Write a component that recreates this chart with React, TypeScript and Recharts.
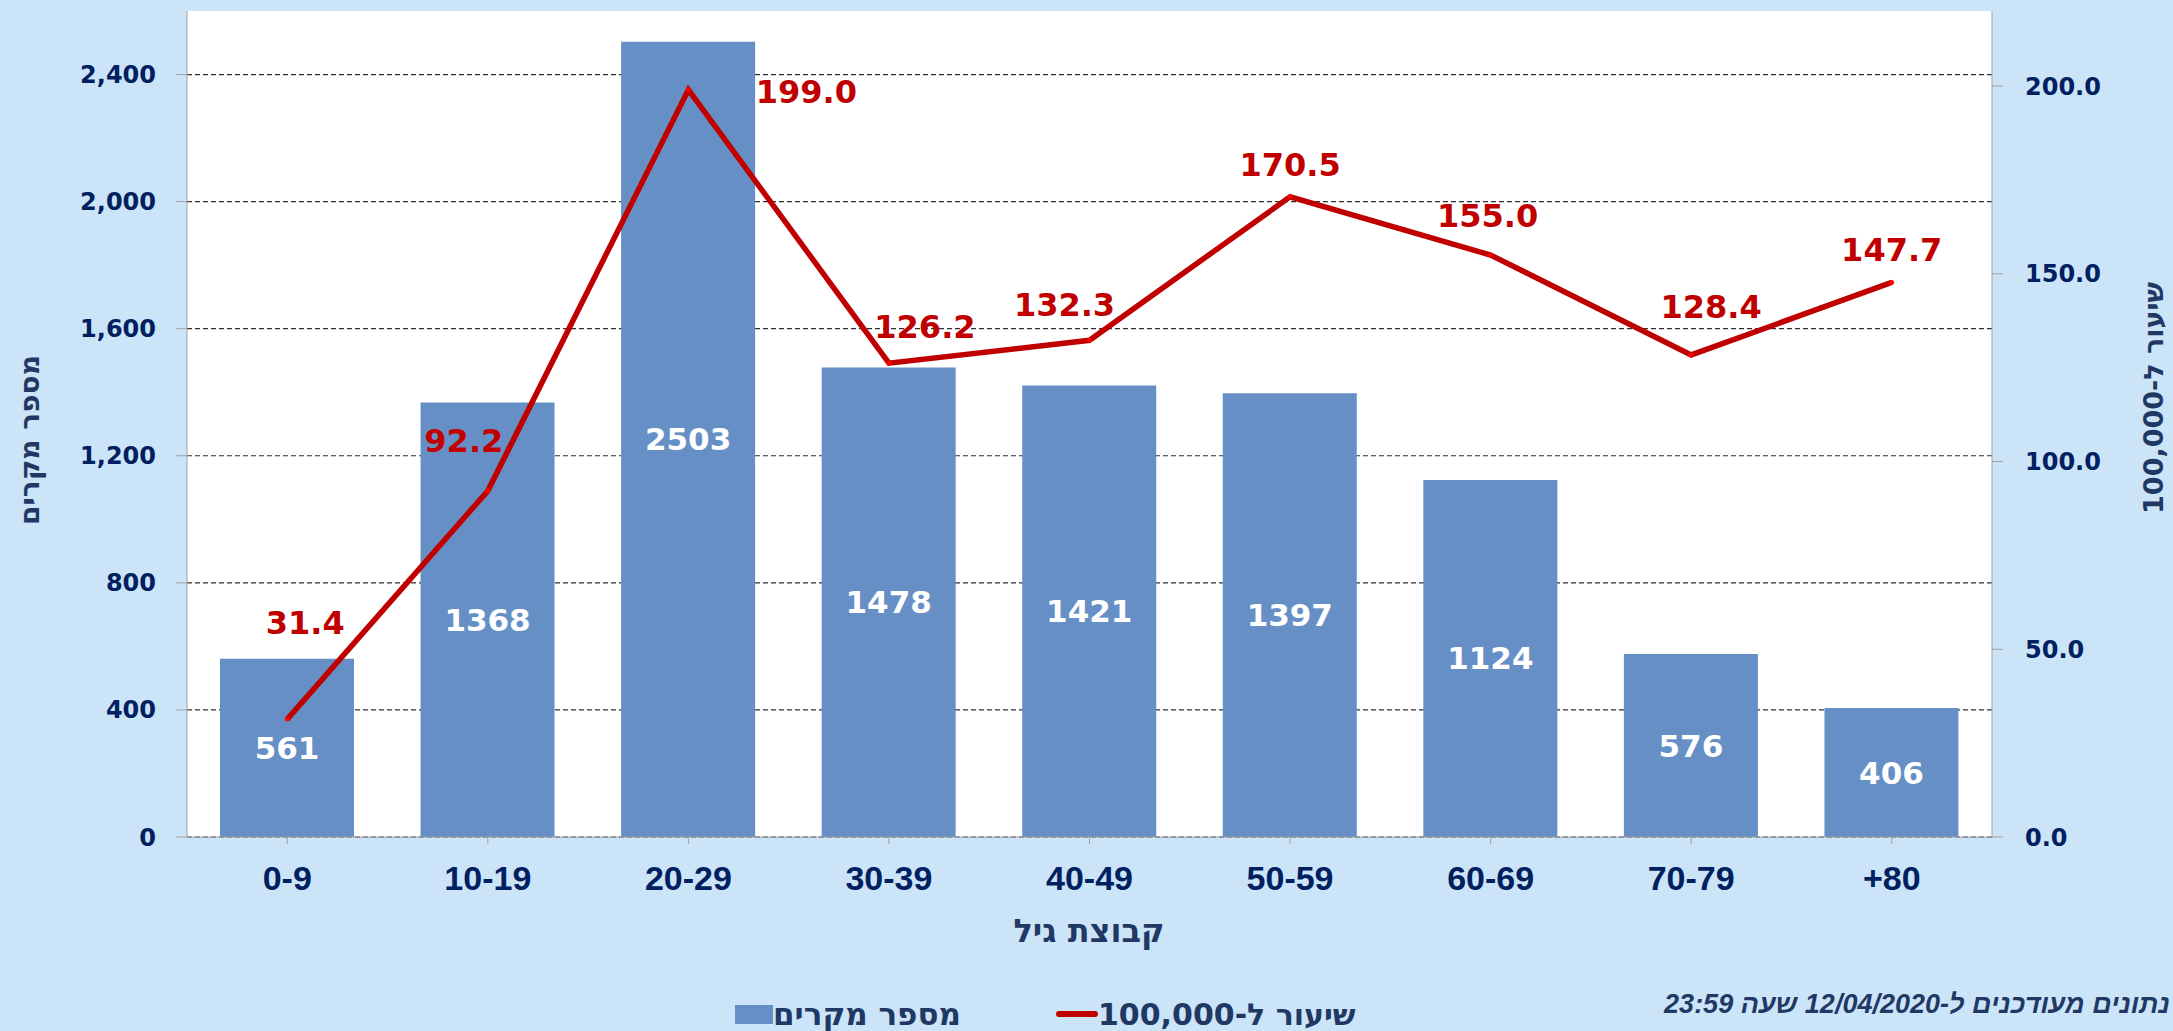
import React from 'react';
import { ComposedChart, Bar, Line, XAxis, YAxis, CartesianGrid, LabelList, Legend } from 'recharts';

// age groups (x categories)
const ageGroups = ['0-9', '10-19', '20-29', '30-39', '40-49', '50-59', '60-69', '70-79', '+80'];
// number of cases per group (bars, left axis)
const caseCounts = [561, 1368, 2503, 1478, 1421, 1397, 1124, 576, 406];
// rate per 100,000 (line, right axis)
const ratePer100k = [31.4, 92.2, 199.0, 126.2, 132.3, 170.5, 155.0, 128.4, 147.7];
const caseTicks = [0, 400, 800, 1200, 1600, 2000, 2400];
const rateTicks = [0, 50, 100, 150, 200];

// hand placed label nudges from the original (dx, dy from the point)
const rateLabelShift = [
  [18, -96], [-24, -50], [118, 2], [36, -36], [-25, -35],
  [0, -32], [-3, -39], [20, -48], [0, -32],
];

const FONT = '"DejaVu Sans", Verdana, sans-serif';
const ARIAL = '"Liberation Sans", Arial, sans-serif';
const NAVY = '#002060';
const TITLE = '#1F3864';
const BG = '#CCE4F8';
const BAR = '#6690C5';
const RED = '#C00000';
const AXIS = '#A0A0A0';
const TOP = 11;

const rows = ageGroups.map((age, i) => ({ age, cases: caseCounts[i], rate: ratePer100k[i] }));

const titleText = (x: number, y: number, text: string, size: number, angle = 0) => () => (
  <text
    x={x}
    y={y}
    transform={angle ? `rotate(${angle}, ${x}, ${y})` : undefined}
    textAnchor="middle"
    dominantBaseline="central"
    fill={TITLE}
    fontFamily={FONT}
    fontWeight={700}
    fontSize={size}
  >
    {text}
  </text>
);

// dashed grid lines, but none on the top edge of the plot
const gridLine = (p: any) =>
  p.y1 < TOP + 2 ? (
    <g key={p.key} />
  ) : (
    <line key={p.key} x1={p.x1} y1={p.y1} x2={p.x2} y2={p.y2} stroke="#303030" strokeWidth={1.2} strokeDasharray="5 3" />
  );

const RateLabel = (props: any) => {
  const { x, y, value, index } = props;
  const [dx, dy] = rateLabelShift[index] || [0, -32];
  return (
    <text
      x={x + dx}
      y={y + dy}
      textAnchor="middle"
      dominantBaseline="central"
      fill={RED}
      fontFamily={FONT}
      fontWeight={700}
      fontSize={32}
    >
      {Number(value).toFixed(1)}
    </text>
  );
};

const ChartLegend = () => (
  <div style={{ position: 'relative', fontFamily: FONT, fontWeight: 700, color: TITLE }}>
    <div style={{ position: 'absolute', left: 735, top: 1000, height: 28, display: 'flex', alignItems: 'center', whiteSpace: 'nowrap', fontSize: 31 }}>
      <span style={{ width: 38, height: 19, background: BAR }} />
      <span dir="rtl">מספר מקרים</span>
    </div>
    <div style={{ position: 'absolute', left: 1056, top: 1000, height: 28, display: 'flex', alignItems: 'center', whiteSpace: 'nowrap', fontSize: 30 }}>
      <span style={{ width: 42, height: 6, borderRadius: 3, background: RED }} />
      <span dir="rtl">שיעור ל-100,000</span>
    </div>
  </div>
);

export default function App() {
  return (
    <div style={{ position: 'fixed', left: 0, top: 0, width: 2173, height: 1031, overflow: 'hidden', background: BG }}>
      <ComposedChart width={2173} height={1031} data={rows} margin={{ top: TOP, right: 0, bottom: 0, left: 0 }}>
        <CartesianGrid
          yAxisId="cases"
          vertical={false}
          horizontal={gridLine}
          fill="#FFFFFF"
          fillOpacity={1}
        />
        <XAxis
          dataKey="age"
          height={194}
          stroke={AXIS}
          tickSize={7}
          tickMargin={22}
          tick={{ fill: NAVY, fontSize: 34, fontWeight: 700, fontFamily: ARIAL }}
          label={{ content: titleText(1089, 931, 'קבוצת גיל', 32) }}
        />
        <YAxis
          yAxisId="cases"
          domain={[0, 2600]}
          ticks={caseTicks}
          width={187}
          stroke={AXIS}
          tickSize={11}
          tickMargin={20}
          tickFormatter={(v: number) => v.toLocaleString('en-US')}
          tick={{ fill: NAVY, fontSize: 24, fontWeight: 700, fontFamily: FONT }}
          label={{ content: titleText(29, 440, 'מספר מקרים', 28, -90) }}
        />
        <YAxis
          yAxisId="rate"
          orientation="right"
          domain={[0, 220]}
          ticks={rateTicks}
          width={181}
          stroke={AXIS}
          tickSize={11}
          tickMargin={22}
          tickFormatter={(v: number) => v.toFixed(1)}
          tick={{ fill: NAVY, fontSize: 24, fontWeight: 700, fontFamily: FONT }}
          label={{ content: titleText(2153, 398, 'שיעור ל-100,000', 27, -90) }}
        />
        <Bar yAxisId="cases" dataKey="cases" fill={BAR} barSize={134} isAnimationActive={false}>
          <LabelList dataKey="cases" position="center" fill="#FFFFFF" fontSize={31} fontWeight={700} fontFamily={FONT} />
        </Bar>
        <Line
          yAxisId="rate"
          dataKey="rate"
          type="linear"
          stroke={RED}
          strokeWidth={5.5}
          dot={{ r: 2, fill: '#FF0000', stroke: '#FF0000', strokeWidth: 1 }}
          activeDot={false}
          isAnimationActive={false}
        >
          <LabelList dataKey="rate" content={RateLabel} />
        </Line>
        <Legend
          verticalAlign="bottom"
          wrapperStyle={{ left: 0, top: 0, width: 2173, height: 0, overflow: 'visible' }}
          content={() => <ChartLegend />}
        />
      </ComposedChart>
      <div
        dir="rtl"
        style={{
          position: 'absolute',
          right: 3,
          top: 989,
          width: 'max-content',
          whiteSpace: 'nowrap',
          fontFamily: ARIAL,
          fontStyle: 'italic',
          fontWeight: 700,
          fontSize: 27,
          color: TITLE,
        }}
      >
        נתונים מעודכנים ל-12/04/2020 שעה 23:59
      </div>
    </div>
  );
}
